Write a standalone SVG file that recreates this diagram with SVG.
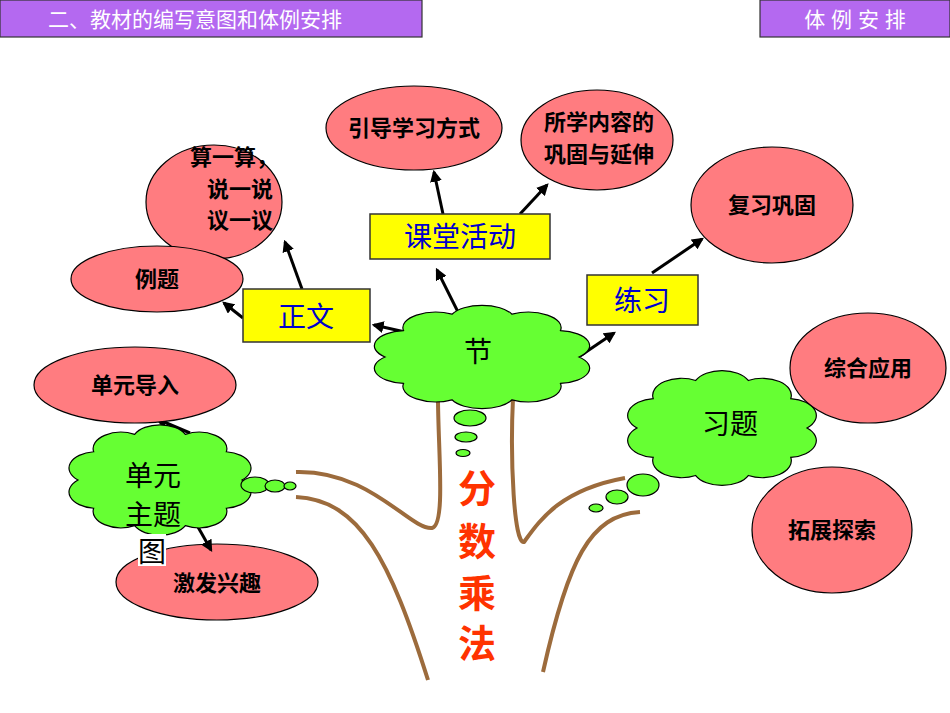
<svg xmlns="http://www.w3.org/2000/svg" width="950" height="713" viewBox="0 0 950 713">
<defs>
<style>
.el{fill:#ff7c80;stroke:#000;stroke-width:1.2}
.cl{fill:#66ff33;stroke:#000;stroke-width:1.2}
.bx{fill:#ffff00;stroke:#333;stroke-width:1.5}
.hd{fill:#b469f0;stroke:#333;stroke-width:1.2}
.et{font-family:"Liberation Sans","Noto Sans CJK SC",sans-serif;font-size:22px;font-weight:bold;fill:#000;text-anchor:middle}
.bt{font-family:"Liberation Sans","Noto Sans CJK SC",sans-serif;font-size:28px;fill:#0000cc;text-anchor:middle}
.ct{font-family:"Liberation Sans","Noto Sans CJK SC",sans-serif;font-size:28px;fill:#000;text-anchor:middle}
.ht{font-family:"Liberation Sans","Noto Sans CJK SC",sans-serif;font-size:21px;fill:#fff}
.tr{fill:none;stroke:#9c6b3c;stroke-width:4}
.ar{stroke:#000;stroke-width:3;fill:none;marker-end:url(#ah)}
</style>
<marker id="ah" viewBox="0 0 10 10" refX="8" refY="5" markerWidth="4" markerHeight="4" orient="auto"><path d="M0,0L10,5L0,10z" fill="#000"/></marker>
</defs>
<rect width="950" height="713" fill="#fff"/>
<g id="header">
<rect class="hd" x="0" y="0" width="422" height="37"/>
<text class="ht" x="48" y="27">二、教材的编写意图和体例安排</text>
<rect class="hd" x="760" y="0" width="190" height="37"/>
<text class="ht" x="855" y="27" text-anchor="middle" font-size="22">体 例 安 排</text>
</g>
<g id="trunk">
<path class="tr" d="M438,398C438,450 446,525 432,528C410,530 370,470 296,472"/>
<path class="tr" d="M296,497C360,500 390,560 428,680"/>
<path class="tr" d="M513,398C510,460 514,545 524,542C540,520 560,490 625,478"/>
<path class="tr" d="M640,512C590,515 568,560 543,672"/>
</g>
<g id="n-jifa"><ellipse class="el" cx="217" cy="582" rx="101" ry="38"/><text class="et" x="217" y="591">激发兴趣</text></g>
<g id="connectors">
<line class="ar" x1="243" y1="318" x2="224" y2="303"/>
<line class="ar" x1="302" y1="289" x2="285" y2="242"/>
<line class="ar" x1="443" y1="214" x2="434" y2="172"/>
<line class="ar" x1="520" y1="214" x2="547" y2="185"/>
<line class="ar" x1="405" y1="332" x2="374" y2="325"/>
<line class="ar" x1="458" y1="312" x2="437" y2="270"/>
<line class="ar" x1="580" y1="356" x2="614" y2="333"/>
<line class="ar" x1="652" y1="273" x2="702" y2="239"/>
<line class="ar" x1="190" y1="433" x2="157" y2="419"/>
<line class="ar" x1="198" y1="527" x2="211" y2="550"/>
</g>
<g id="n-jie">
<path class="cl" vector-effect="non-scaling-stroke" transform="translate(482,357) scale(97,45)" d="M1,0A.34,.34 0 0 1 .809,.588A.34,.34 0 0 1 .309,.951A.34,.34 0 0 1 -.309,.951A.34,.34 0 0 1 -.809,.588A.34,.34 0 0 1 -1,0A.34,.34 0 0 1 -.809,-.588A.34,.34 0 0 1 -.309,-.951A.34,.34 0 0 1 .309,-.951A.34,.34 0 0 1 .809,-.588A.34,.34 0 0 1 1,0Z"/>
<ellipse class="cl" cx="470" cy="418" rx="16" ry="8"/>
<ellipse class="cl" cx="466" cy="437" rx="11" ry="5"/>
<ellipse class="cl" cx="463" cy="453" rx="7" ry="3.5"/>
<text class="ct" x="478" y="362" font-size="26">节</text>
</g>
<g id="n-danyuan">
<path class="cl" vector-effect="non-scaling-stroke" transform="translate(160,480) scale(82,48)" d="M1,0A.34,.34 0 0 1 .809,.588A.34,.34 0 0 1 .309,.951A.34,.34 0 0 1 -.309,.951A.34,.34 0 0 1 -.809,.588A.34,.34 0 0 1 -1,0A.34,.34 0 0 1 -.809,-.588A.34,.34 0 0 1 -.309,-.951A.34,.34 0 0 1 .309,-.951A.34,.34 0 0 1 .809,-.588A.34,.34 0 0 1 1,0Z"/>
<ellipse class="cl" cx="255" cy="485" rx="14" ry="8"/>
<ellipse class="cl" cx="275" cy="486" rx="10" ry="6"/>
<ellipse class="cl" cx="290" cy="486" rx="6" ry="4"/>
<text class="ct" x="153" y="486" font-size="30">单元</text>
<text class="ct" x="153" y="525" font-size="30">主题</text>
<rect x="138" y="534" width="28" height="32" fill="#fff"/>
<text class="ct" x="152" y="562" font-size="30">图</text>
</g>
<g id="n-xiti">
<path class="cl" vector-effect="non-scaling-stroke" transform="translate(722,428) scale(85,50)" d="M1,0A.34,.34 0 0 1 .809,.588A.34,.34 0 0 1 .309,.951A.34,.34 0 0 1 -.309,.951A.34,.34 0 0 1 -.809,.588A.34,.34 0 0 1 -1,0A.34,.34 0 0 1 -.809,-.588A.34,.34 0 0 1 -.309,-.951A.34,.34 0 0 1 .309,-.951A.34,.34 0 0 1 .809,-.588A.34,.34 0 0 1 1,0Z"/>
<ellipse class="cl" cx="643" cy="485" rx="16" ry="11"/>
<ellipse class="cl" cx="617" cy="497" rx="11" ry="7"/>
<ellipse class="cl" cx="596" cy="508" rx="7" ry="4"/>
<text class="ct" x="730" y="434">习题</text>
</g>
<g id="n-zhengwen"><rect class="bx" x="243" y="289" width="127" height="53"/><text class="bt" x="306" y="327">正文</text></g>
<g id="n-ketang"><rect class="bx" x="370" y="214" width="180" height="45"/><text class="bt" x="460" y="247">课堂活动</text></g>
<g id="n-lianxi"><rect class="bx" x="587" y="275" width="111" height="50"/><text class="bt" x="642" y="311">练习</text></g>
<g id="n-yindao"><ellipse class="el" cx="414" cy="128" rx="88" ry="42"/><text class="et" x="414" y="136">引导学习方式</text></g>
<g id="n-suoxue"><ellipse class="el" cx="597" cy="140" rx="76" ry="50"/><text class="et" x="599" y="130">所学内容的</text><text class="et" x="599" y="162">巩固与延伸</text></g>
<g id="n-suan"><ellipse class="el" cx="214" cy="202" rx="68" ry="57"/><text class="et" x="234" y="165">算一算，</text><text class="et" x="240" y="197">说一说</text><text class="et" x="240" y="228">议一议</text></g>
<g id="n-liti"><ellipse class="el" cx="157" cy="279" rx="86" ry="33"/><text class="et" x="157" y="287">例题</text></g>
<g id="n-fuxi"><ellipse class="el" cx="772" cy="205" rx="81" ry="58"/><text class="et" x="772" y="213">复习巩固</text></g>
<g id="n-zonghe"><ellipse class="el" cx="868" cy="368" rx="78" ry="55"/><text class="et" x="868" y="376">综合应用</text></g>
<g id="n-tuozhan"><ellipse class="el" cx="832" cy="530" rx="80" ry="63"/><text class="et" x="832" y="538">拓展探索</text></g>
<g id="n-daoru"><ellipse class="el" cx="135" cy="385" rx="101" ry="38"/><text class="et" x="135" y="393">单元导入</text></g>
<g id="title" font-family="Liberation Sans,Noto Sans CJK SC,sans-serif" font-size="38" font-weight="bold" fill="#ff3300" text-anchor="middle">
<text x="477" y="502">分</text><text x="477" y="555">数</text><text x="477" y="607">乘</text><text x="477" y="657">法</text>
</g>
</svg>
